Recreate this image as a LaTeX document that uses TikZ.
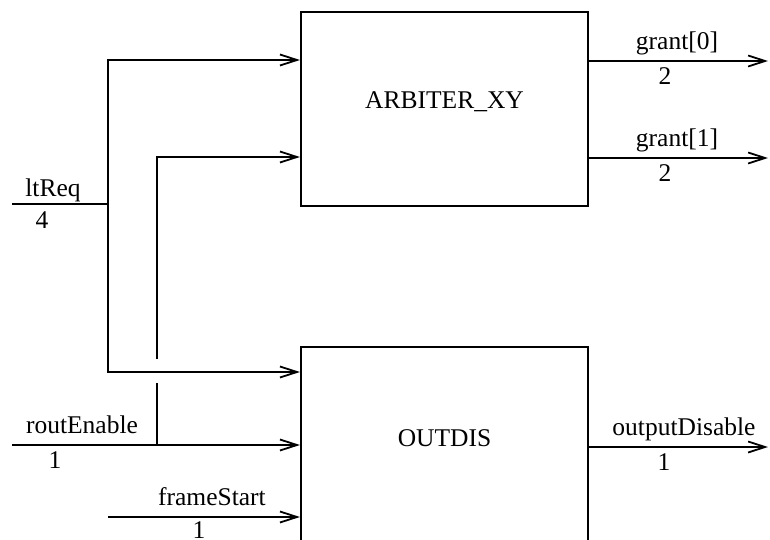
\documentclass[tikz,border=0pt]{standalone}
\usepackage{fontspec}
\setmainfont{Liberation Serif}
\usetikzlibrary{arrows.meta, positioning, calc}
\newcommand{\sigfont}{\fontsize{25.5}{30}\selectfont}

\begin{document}
\begin{tikzpicture}[
    x=1pt, y=-1pt,
    block/.style={draw, line width=2.2pt, minimum width=287pt, text depth=18pt, font=\sigfont},
    wire/.style={line width=2.2pt},
    arr/.style={wire, -{Straight Barb[length=17pt, width=11pt, line width=1.8pt]}},
    sig/.style={font=\sigfont, anchor=base, inner sep=0pt}
]
\useasboundingbox (0,0) rectangle (770,540);
\clip (0,0) rectangle (770,540);

% Blocks
\node[block, minimum height=194pt] (arb) at (444.5,109) {ARBITER\_XY};
\node[block, minimum height=200pt] (outdis) at (444.5,447) {OUTDIS};

% Input wires
\coordinate (ltin) at (12,204);
\coordinate (ltsplit) at (108,204);
\coordinate (rin) at (12,445);
\coordinate (rsplit) at (157,445);
\coordinate (jumplo) at (157,383);
\coordinate (jumphi) at (157,359);
\coordinate (fsin) at (108,517);

\draw[wire] (ltin) -- (ltsplit);
\draw[arr] (ltsplit) |- (arb.west |- 0,60);
\draw[arr] (ltsplit) |- (outdis.west |- 0,372);
\draw[arr] (rin) -- (outdis.west |- rin);
\draw[wire] (rsplit) -- (jumplo);
\draw[arr] (jumphi) |- (arb.west |- 0,157);
\draw[arr] (fsin) -- (outdis.west |- fsin);

% Output wires
\coordinate (g0) at (768,61);
\coordinate (g1) at (768,158);
\coordinate (od) at (768,447);
\draw[arr] (arb.east |- g0) -- (g0);
\draw[arr] (arb.east |- g1) -- (g1);
\draw[arr] (outdis.east |- od) -- (od);

% Signal names and widths
\node[sig] (ltreqlbl) at (53,196) {ltReq};
\node[sig] (ltreqw) at (42,228) {4};
\node[sig] (routlbl) at (82,433) {routEnable};
\node[sig] (routw) at (55,468) {1};
\node[sig] (framelbl) at (212,505) {frameStart};
\node[sig] (framew) at (199,538) {1};
\node[sig] (g0lbl) at (677,50) {grant[0]};
\node[sig] (g0w) at (665,85) {2};
\node[sig] (g1lbl) at (677,147) {grant[1]};
\node[sig] (g1w) at (665,182) {2};
\node[sig] (odlbl) at (684,435) {outputDisable};
\node[sig] (odw) at (664,470) {1};

\end{tikzpicture}
\end{document}
